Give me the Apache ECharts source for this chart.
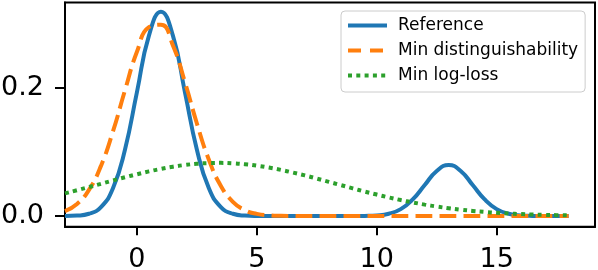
<!DOCTYPE html>
<html>
<head>
<meta charset="utf-8">
<script src="https://cdn.jsdelivr.net/npm/echarts@6/dist/echarts.min.js"></script>
<style>
html,body{margin:0;padding:0;background:#fff;}
#c{width:598px;height:270px;}
</style>
</head>
<body>
<div id="c"></div>
<script>
// x sample positions
var xs = [-3,-2.5,-2,-1.5,-1,-0.5,0,0.5,1,1.5,2,2.5,3,3.5,4,4.5,5,5.5,6,6.5,7,7.5,8,8.5,9,9.5,10,10.5,11,11.5,12,12.5,13,13.5,14,14.5,15,15.5,16,16.5,17,17.5,18];
// Reference density
var reference = [0.0001,0.0007,0.0035,0.0140,0.0432,0.1036,0.1936,0.2817,0.3192,0.2817,0.1936,0.1036,0.0432,0.0140,0.0035,0.0007,0.0001,0,0,0,0,0,0,0,0,0.0002,0.0009,0.0035,0.0108,0.0259,0.0484,0.0704,0.0798,0.0704,0.0484,0.0259,0.0108,0.0035,0.0009,0.0002,0,0,0];
// Min distinguishability
var minDist = [0.0076,0.0188,0.0409,0.0783,0.1321,0.1962,0.2565,0.2951,0.2989,0.2665,0.2092,0.1445,0.0879,0.0470,0.0222,0.0092,0.0034,0.0011,0.0003,0.0001,0,0,0,0,0,0,0,0,0,0,0,0,0,0,0,0,0,0,0,0,0,0,0];
// Min log-loss
var minLogLoss = [0.0354,0.0402,0.0452,0.0503,0.0555,0.0605,0.0652,0.0697,0.0736,0.0770,0.0797,0.0816,0.0827,0.0830,0.0824,0.0809,0.0787,0.0757,0.0721,0.0679,0.0634,0.0585,0.0534,0.0483,0.0432,0.0382,0.0335,0.0291,0.0249,0.0212,0.0178,0.0148,0.0122,0.0099,0.0080,0.0064,0.0050,0.0039,0.0030,0.0023,0.0018,0.0013,0.0010];
var xTicks = [0,5,10,15];
var yTicks = [0,0.2];
var seriesNames = ['Reference','Min distinguishability','Min log-loss'];
var colors = ['#1f77b4','#ff7f0e','#2ca02c'];
var dashes = ['solid',[17,7],[4,4.3]];
var legendDashes = ['solid',[13,9],[4,4.3]];

function pairs(ys){ return xs.map(function(x,i){ return [x, ys[i]]; }); }

var FONT = 'DejaVu Sans';
var chart = echarts.init(document.getElementById('c'), null, {renderer:'canvas'});
chart.setOption({
  animation:false,
  backgroundColor:'#fff',
  grid:{left:65,right:3,top:2.5,bottom:43.3,show:true,borderColor:'#000',borderWidth:2,backgroundColor:'transparent',containLabel:false,outerBoundsMode:'none'},
  legend:{
    orient:'vertical',left:341,top:11,
    padding:[6,7,8,5],
    itemWidth:39,itemHeight:14,itemGap:8,
    backgroundColor:'rgba(255,255,255,0.8)',
    borderColor:'#cccccc',borderWidth:1,borderRadius:4,
    itemStyle:{opacity:0},
    lineStyle:{width:4,cap:'butt'},
    textStyle:{fontFamily:FONT,fontSize:17,lineHeight:17,color:'#000',padding:[0,0,0,6]},
    data:seriesNames.map(function(n,i){
      return {name:n,itemStyle:{opacity:0},lineStyle:{width:4,color:colors[i],type:legendDashes[i],cap:'butt'}};
    })
  },
  xAxis:{
    type:'value',min:-3,max:19.1,
    splitLine:{show:false},
    axisLine:{show:true,onZero:false,lineStyle:{color:'#000',width:2}},
    axisTick:{show:true,length:8.5,lineStyle:{color:'#000',width:2},customValues:xTicks},
    axisLabel:{fontFamily:FONT,fontSize:27,color:'#000',margin:20,customValues:xTicks,formatter:function(v){return String(v);}}
  },
  yAxis:{
    type:'value',min:-0.0167,max:0.3335,
    splitLine:{show:false},
    axisLine:{show:true,onZero:false,lineStyle:{color:'#000',width:2}},
    axisTick:{show:true,length:10,lineStyle:{color:'#000',width:2},customValues:yTicks},
    axisLabel:{fontFamily:FONT,fontSize:27,color:'#000',margin:21,customValues:yTicks,formatter:function(v){return v.toFixed(1);}}
  },
  series:seriesNames.map(function(n,i){
    var ys = [reference,minDist,minLogLoss][i];
    return {name:n,type:'line',data:pairs(ys),smooth:0.5,symbol:'none',
      lineStyle:{color:colors[i],width:4,type:dashes[i],cap:'butt'},itemStyle:{color:colors[i]}};
  })
});
</script>
</body>
</html>
